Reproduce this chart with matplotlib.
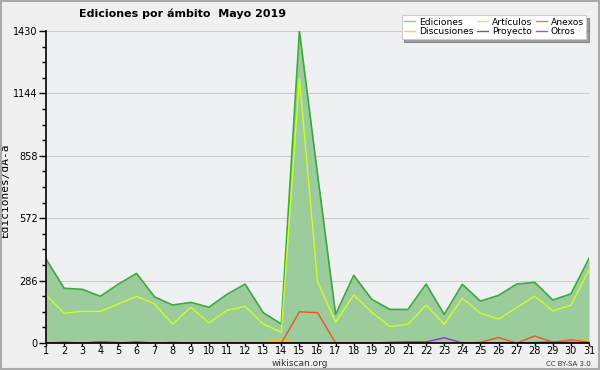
import numpy as np
import matplotlib.pyplot as plt
from matplotlib.ticker import MultipleLocator

days = np.arange(1, 32)
ediciones = [385, 251, 246, 214, 270, 319, 211, 174, 186, 164, 223, 270, 139, 87, 1430, 775,
             131, 310, 200, 154, 154, 270, 131, 269, 192, 218, 270, 278, 197, 225, 388]
articulos = [220, 137, 145, 145, 179, 214, 179, 86, 164, 92, 150, 168, 87, 49, 1213, 281,
             95, 220, 141, 75, 86, 174, 86, 205, 137, 109, 162, 215, 147, 173, 335]
anexos = [0, 4, 0, 2, 0, 0, 0, 3, 0, 0, 2, 0, 0, 0, 143, 139,
          0, 0, 0, 0, 0, 0, 0, 0, 3, 25, 0, 32, 4, 14, 4]
discusiones = [0, 0, 0, 0, 3, 0, 0, 0, 0, 0, 3, 2, 5, 14, 3, 0,
               0, 2, 4, 5, 6, 3, 2, 2, 2, 2, 3, 0, 2, 3, 15]
proyecto = [0, 0, 0, 4, 2, 0, 0, 0, 0, 0, 0, 0, 0, 0, 0, 0,
            0, 0, 0, 0, 0, 0, 0, 0, 0, 0, 0, 0, 3, 3, 2]
otros = [1, 0, 0, 4, 0, 5, 0, 0, 0, 0, 0, 0, 0, 0, 0, 0,
         0, 0, 0, 3, 5, 5, 24, 0, 0, 0, 0, 2, 4, 0, 0]
yticks = [0, 286, 572, 858, 1144, 1430]

fig = plt.figure(figsize=(6, 3.7), dpi=100, facecolor='#f0f0f0')
ax = fig.add_axes([0.0767, 0.073, 0.905, 0.843])
ax.set_facecolor('#eef0f2')

# area de ediciones y lineas
ax.fill_between(days, ediciones, 0, color='#9ccb9c', lw=0)
ax.plot(days, ediciones, color='#3aaa3a', lw=1.2)
ax.plot(days, articulos, color='#ccff22', lw=1.0)
ax.plot(days, proyecto, color='#444444', lw=1.0)
ax.plot(days, discusiones, color='#ffbb11', lw=1.0)
ax.plot(days, otros, color='#8833ee', lw=1.0)
ax.plot(days, anexos, color='#ee5522', lw=1.0)

ax.set_xlim(1, 31)
ax.set_ylim(0, 1430)
ax.set_xticks(days)
ax.set_yticks(yticks)
ax.yaxis.set_minor_locator(MultipleLocator(71.5))
ax.grid(axis='y', color='#cccccc', lw=0.8)
ax.set_axisbelow(True)
for s in ['top', 'right']:
    ax.spines[s].set_visible(False)
ax.spines['left'].set_linewidth(1.2)
ax.spines['bottom'].set_linewidth(1.2)
ax.tick_params(axis='y', labelsize=7, length=5, width=1, color='black', pad=1)
ax.tick_params(axis='x', labelsize=7, length=2, width=1, color='black', pad=0.5)
ax.tick_params(axis='y', which='minor', length=3, width=1)
ax.set_ylabel('Ediciones/dÃ-a', family='DejaVu Sans Mono', fontsize=8)
ax.yaxis.set_label_coords(-0.066, 0.49)

fig.text(0.305, 0.962, 'Ediciones por ámbito  Mayo 2019', fontsize=8, fontweight='bold',
         ha='center', va='center')

# leyenda
labels = ['Ediciones', 'Discusiones', 'Artículos', 'Proyecto', 'Anexos', 'Otros']
colors = ['#88cc88', '#ffcc44', '#ccee66', '#666666', '#ee7744', '#9955ee']
handles = [plt.Line2D([], [], color=c, lw=1) for c in colors]
leg = fig.legend(handles, labels, ncol=3, loc='upper right', bbox_to_anchor=(0.985, 0.972),
                 fontsize=6.6, frameon=True, fancybox=False, shadow=True, handlelength=1.2,
                 handletextpad=0.4, columnspacing=0.4, labelspacing=0.05, borderpad=0.3)
leg.get_frame().set_edgecolor('#cccccc')
leg.get_frame().set_linewidth(0.8)

fig.text(0.5, 0.006, 'wikiscan.org', ha='center', va='bottom', fontsize=6.5, color='#333333')
fig.text(0.985, 0.008, 'CC BY-SA 3.0', ha='right', va='bottom', fontsize=5, color='#333333')

# marco de la figura
fig.patches.append(plt.Rectangle((0.002, 0.004), 0.996, 0.994, transform=fig.transFigure,
                                 fill=False, edgecolor='#aaaaaa', lw=1.5))

plt.savefig('out.png', dpi=100, facecolor=fig.get_facecolor())
